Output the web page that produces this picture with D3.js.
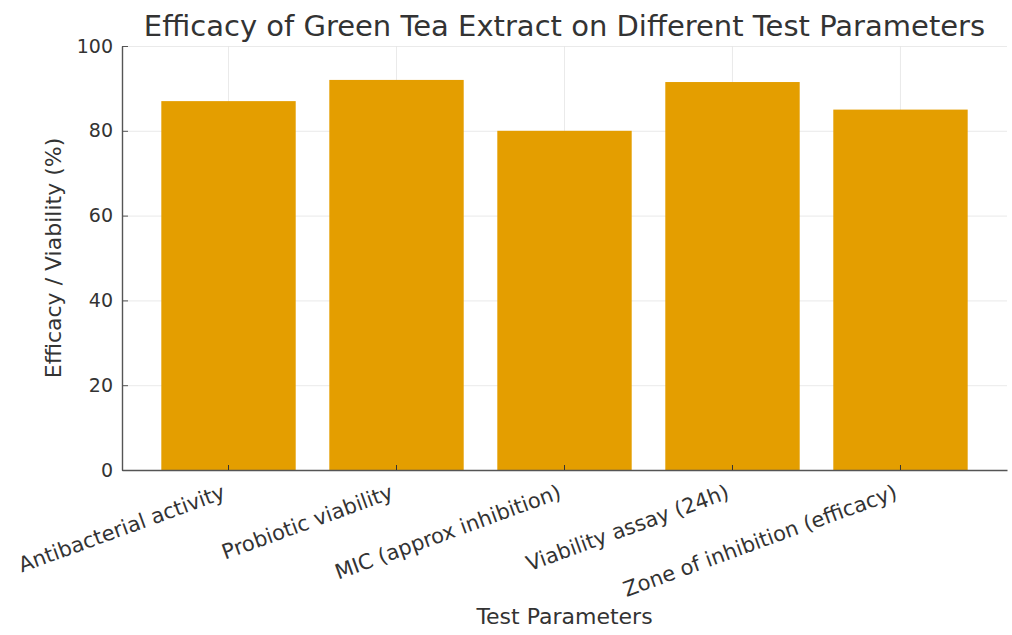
<!DOCTYPE html>
<html>
<head>
<meta charset="utf-8">
<script src="https://cdn.jsdelivr.net/npm/d3@7/dist/d3.min.js"></script>
<style>
  body { margin: 0; background: #fff; }
  svg { display: block; }
  text { font-family: "DejaVu Sans", sans-serif; }
</style>
</head>
<body>
<div id="chart"></div>
<script>
// chart data
const categories = [
    'Antibacterial activity',
    'Probiotic viability',
    'MIC (approx inhibition)',
    'Viability assay (24h)',
    'Zone of inhibition (efficacy)'
];
const values = [87, 92, 80, 91.5, 85];
const yTicks = [0, 20, 40, 60, 80, 100];

const width = 1012, height = 635;
const margin = { top: 46, right: 5, bottom: 165, left: 122 };
const chartWidth = width - margin.left - margin.right;
const chartHeight = height - margin.top - margin.bottom;
const FONT = '"DejaVu Sans", sans-serif';
const textColor = '#333';

const svg = d3.select('#chart').append('svg')
    .attr('width', width)
    .attr('height', height);

const g = svg.append('g')
    .attr('transform', `translate(${margin.left},${margin.top})`);

const xScale = d3.scaleBand()
    .domain(categories)
    .range([0, chartWidth])
    .paddingInner(0.2)
    .paddingOuter(0.234);

const yScale = d3.scaleLinear()
    .domain([0, 100])
    .range([chartHeight, 0]);

// grid
g.append('g')
    .attr('class', 'grid')
    .call(d3.axisLeft(yScale).tickValues(yTicks).tickSize(-chartWidth).tickFormat(''))
    .call(s => s.select('.domain').remove())
    .selectAll('line')
    .attr('stroke', '#e4e4e4')
    .attr('stroke-width', 0.8);

g.append('g')
    .attr('class', 'grid')
    .attr('transform', `translate(0,${chartHeight})`)
    .call(d3.axisBottom(xScale).tickSize(-chartHeight).tickFormat(''))
    .call(s => s.select('.domain').remove())
    .selectAll('line')
    .attr('stroke', '#e4e4e4')
    .attr('stroke-width', 0.8);

// bars
g.selectAll('rect.bar')
    .data(values)
    .enter()
    .append('rect')
    .attr('class', 'bar')
    .attr('x', (d, i) => xScale(categories[i]))
    .attr('y', d => yScale(d))
    .attr('width', xScale.bandwidth())
    .attr('height', d => chartHeight - yScale(d))
    .attr('fill', '#e49e00');

// y axis (ticks point inward)
const yAxis = g.append('g')
    .call(d3.axisLeft(yScale).tickValues(yTicks).tickSize(-6).tickSizeOuter(0).tickPadding(9));
yAxis.attr('font-family', FONT);
yAxis.select('.domain').attr('stroke', '#555').attr('stroke-width', 1.4);
yAxis.selectAll('.tick line').attr('stroke', '#555');
yAxis.selectAll('.tick text')
    .attr('font-size', '19px')
    .attr('fill', textColor);

// x axis
const xAxis = g.append('g')
    .attr('transform', `translate(0,${chartHeight})`)
    .call(d3.axisBottom(xScale).tickSize(-5).tickSizeOuter(0));
xAxis.attr('font-family', FONT);
xAxis.select('.domain').attr('stroke', '#555').attr('stroke-width', 1.4);
xAxis.selectAll('.tick line').attr('stroke', '#333');
xAxis.selectAll('.tick text')
    .attr('font-size', '21px')
    .attr('fill', textColor)
    .attr('text-anchor', 'end')
    .attr('dy', '0')
    .attr('y', 0)
    .attr('transform', 'translate(-2,28) rotate(-20)');

// title
svg.append('text')
    .attr('x', margin.left + chartWidth / 2)
    .attr('y', 36)
    .attr('text-anchor', 'middle')
    .attr('font-size', '29px')
    .attr('fill', textColor)
    .text('Efficacy of Green Tea Extract on Different Test Parameters');

// axis labels
svg.append('text')
    .attr('x', margin.left + chartWidth / 2)
    .attr('y', 624)
    .attr('text-anchor', 'middle')
    .attr('font-size', '22px')
    .attr('fill', textColor)
    .text('Test Parameters');

svg.append('text')
    .attr('transform', `translate(61,${margin.top + chartHeight / 2}) rotate(-90)`)
    .attr('text-anchor', 'middle')
    .attr('font-size', '22px')
    .attr('fill', textColor)
    .text('Efficacy / Viability (%)');
</script>
</body>
</html>
